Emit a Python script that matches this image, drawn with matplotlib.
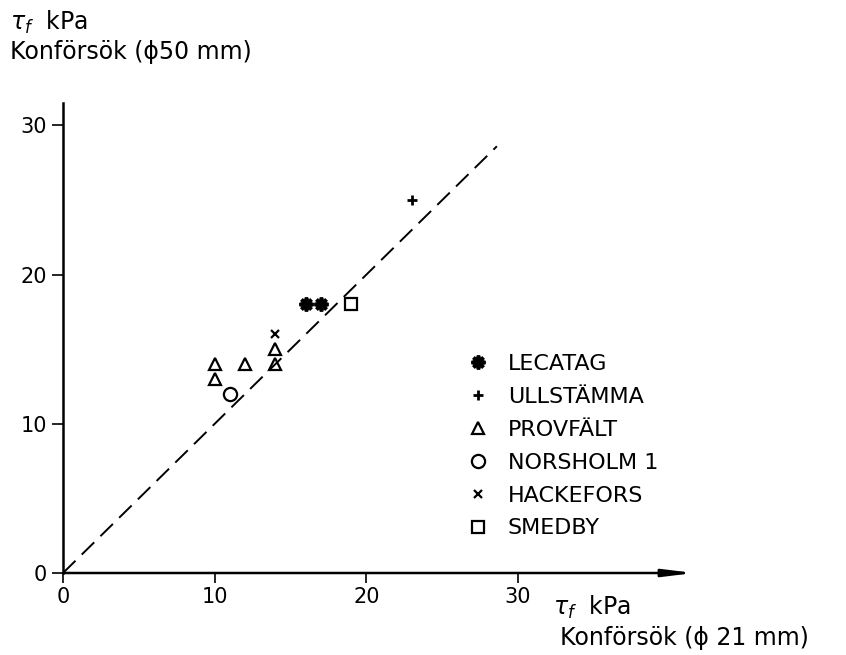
import matplotlib

matplotlib.use('Agg')
import matplotlib.pyplot as plt

plt.rcParams['font.family'] = ['DejaVu Sans']
plt.rcParams['mathtext.fontset'] = 'dejavusans'

# tau_f från konförsök, 21 mm (x) mot 50 mm (y)
lecatag_x = [16, 17]
lecatag_y = [18, 18]
ullstamma_x = [23]
ullstamma_y = [25]
provfalt_x = [10, 10, 12, 14, 14]
provfalt_y = [14, 13, 14, 14, 15]
norsholm_x = [11]
norsholm_y = [12]
hackefors_x = [14]
hackefors_y = [16]
smedby_x = [19]
smedby_y = [18]

ref_line = [0, 28.6]
ticks = [0, 10, 20, 30]

W, H = 846, 655
fig = plt.figure(figsize=(W / 100, H / 100), dpi=100)
ax = fig.add_axes([63 / W, (H - 573) / H, 622 / W, 470 / H])
ax.set_xlim(0, 41)
ax.set_ylim(0, 31.5)

for s in ['top', 'right', 'bottom']:
    ax.spines[s].set_visible(False)
ax.spines['left'].set_linewidth(1.8)

# x-axeln som pil
ax.annotate('', xy=(41.6, 0), xytext=(0, 0), xycoords='data',
            arrowprops=dict(arrowstyle='-|>,head_length=1.8,head_width=0.22',
                            lw=1.8, color='black', shrinkA=0, shrinkB=0),
            annotation_clip=False)

ax.plot(ref_line, ref_line, color='black', lw=1.4, dashes=(9, 4.5))

kw = dict(linestyle='none', color='black', clip_on=False)
ax.plot(lecatag_x, lecatag_y, marker=(8, 2, 0), ms=10, mew=2.6, label='LECATAG', **kw)
ax.plot(ullstamma_x, ullstamma_y, marker='+', ms=7, mew=2.0, label='ULLSTÄMMA', **kw)
ax.plot(provfalt_x, provfalt_y, marker='^', ms=9, mew=1.6, mfc='none', label='PROVFÄLT', **kw)
ax.plot(norsholm_x, norsholm_y, marker='o', ms=9.5, mew=1.6, mfc='none', label='NORSHOLM 1', **kw)
ax.plot(hackefors_x, hackefors_y, marker='x', ms=5.5, mew=1.6, label='HACKEFORS', **kw)
ax.plot(smedby_x, smedby_y, marker='s', ms=8.5, mew=1.6, mfc='none', label='SMEDBY', **kw)

ax.set_xticks(ticks)
ax.set_yticks(ticks)
ax.tick_params(axis='x', length=7, width=1.2, pad=3, labelsize=15)
ax.tick_params(axis='y', length=8, width=1.2, pad=3.5, labelsize=15)

leg = ax.legend(loc='upper left', bbox_to_anchor=(467 / W, 1 - 354 / H),
                bbox_transform=fig.transFigure, frameon=False, fontsize=16,
                handlelength=1.0, handletextpad=0.84, borderpad=0,
                labelspacing=0.58, numpoints=1, borderaxespad=0)

fig.text(10 / W, 1 - 22 / H, r'$\tau_f$  kPa', fontsize=17, va='center', ha='left')
fig.text(10 / W, 1 - 52 / H, 'Konförsök (ϕ50 mm)', fontsize=17, va='center', ha='left')
fig.text(553 / W, 1 - 607 / H, r'$\tau_f$  kPa', fontsize=17, va='center', ha='left')
fig.text(560 / W, 1 - 638 / H, 'Konförsök (ϕ 21 mm)', fontsize=17, va='center', ha='left')

fig.savefig('out.png', dpi=100)
